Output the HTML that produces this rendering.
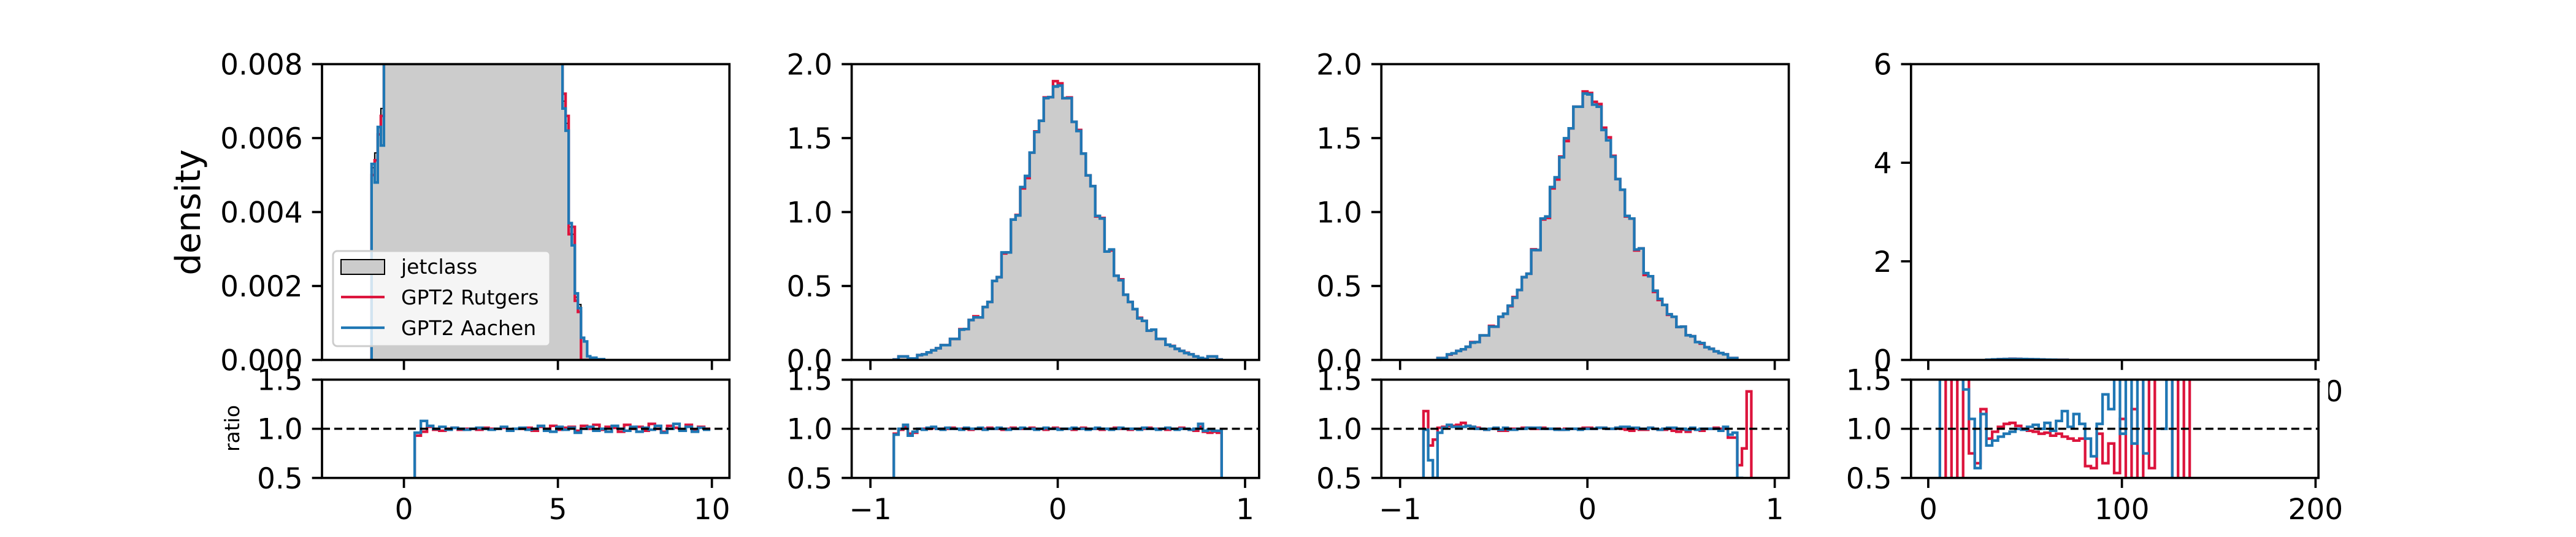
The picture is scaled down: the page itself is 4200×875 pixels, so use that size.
<!DOCTYPE html>
<html><head><meta charset="utf-8"><style>
html,body{margin:0;padding:0;background:#fff;}
svg{display:block;font-family:"DejaVu Sans","Liberation Sans",sans-serif;}
</style></head><body>
<svg id="fig" xmlns="http://www.w3.org/2000/svg" width="4200" height="875" viewBox="0 0 4200 875">
<rect width="4200" height="875" fill="#fff"/>
</svg>
<script>
// ---------- data ----------
const p1Edges = [-1.05,-0.95,-0.85,-0.75,-0.65,-0.55,0,0.5,1,1.5,2,2.5,3,3.5,4,4.5,5,5.15,5.25,5.35,5.45,5.55,5.65,5.75,5.85,5.95,6.05,6.25,6.5];
const p1Jet = [0.0052,0.0056,0.0063,0.0068,0.0095,0.05,0.2,0.35,0.4,0.38,0.33,0.27,0.2,0.13,0.07,0.03,0.012,0.0070,0.0064,0.0036,0.0034,0.0017,0.0015,0.0006,0.0005,0.0001,0.00006,0.00002];
const p1Rut = [0.0050,0.0054,0.0061,0.0066,0.0093,0.05,0.2,0.35,0.4,0.38,0.33,0.27,0.2,0.13,0.07,0.03,0.012,0.0072,0.0066,0.0034,0.0036,0.0016,0.0013,0.0000,0.0000,0.0000,0.00000,0.00000];
const p1Aac = [0.0053,0.0048,0.0063,0.0058,0.0098,0.05,0.2,0.35,0.4,0.38,0.33,0.27,0.2,0.13,0.07,0.03,0.012,0.0068,0.0062,0.0037,0.0031,0.0018,0.0014,0.0006,0.0005,0.0001,0.00006,0.00002];
const p1RatioStart = 0.15, p1RatioWidth = 0.2;
const p1RatioRut = [0,0.93,0.97,1.02,0.99,0.98,1.0,1.01,0.99,1.0,1.0,0.99,1.01,1.0,1.0,1.01,0.99,1.0,1.0,1.01,0.98,1.02,1.0,1.03,0.99,1.01,1.02,0.98,1.03,1.0,1.04,0.99,1.02,1.01,0.97,1.04,1.0,1.02,0.98,1.05,1.0,0.97,1.03,1.01,0.99,1.04,0.98,1.02,1.0];
const p1RatioAac = [0,0.96,1.08,1.03,1.0,1.02,0.99,1.01,1.0,0.99,1.0,1.01,1.0,0.99,1.0,1.02,0.98,1.0,1.01,0.99,1.0,1.03,0.98,0.97,1.02,0.99,1.01,0.96,1.0,1.02,0.98,1.0,0.97,1.03,1.0,0.98,1.02,0.97,1.01,0.99,1.03,0.96,1.0,1.05,0.98,1.02,0.97,1.01,0.99];
const p2Start = -0.875, p2Width = 0.025;
const p2Jet = [0.003,0.024,0.024,0.010,0.010,0.033,0.038,0.051,0.065,0.079,0.100,0.100,0.142,0.142,0.205,0.209,0.270,0.288,0.288,0.358,0.392,0.534,0.560,0.727,0.727,0.949,0.977,1.169,1.244,1.402,1.541,1.617,1.770,1.777,1.854,1.861,1.770,1.770,1.610,1.548,1.395,1.248,1.175,0.974,0.956,0.733,0.747,0.569,0.539,0.441,0.392,0.344,0.281,0.264,0.198,0.205,0.142,0.142,0.103,0.093,0.075,0.061,0.047,0.038,0.024,0.014,0.007,0.024,0.024,0.003];
const p2Rut = [0.003,0.024,0.024,0.010,0.010,0.033,0.038,0.051,0.065,0.079,0.100,0.100,0.142,0.142,0.208,0.209,0.270,0.295,0.288,0.358,0.392,0.534,0.560,0.720,0.727,0.949,0.980,1.160,1.230,1.402,1.545,1.617,1.775,1.777,1.885,1.870,1.770,1.775,1.610,1.555,1.395,1.248,1.175,0.970,0.960,0.733,0.740,0.569,0.545,0.441,0.392,0.344,0.285,0.264,0.198,0.205,0.142,0.142,0.103,0.095,0.075,0.061,0.049,0.038,0.024,0.014,0.007,0.024,0.024,0.003];
const p2Aac = [0.003,0.024,0.024,0.010,0.010,0.033,0.038,0.051,0.065,0.079,0.100,0.100,0.142,0.142,0.205,0.209,0.270,0.288,0.288,0.358,0.392,0.534,0.560,0.727,0.727,0.949,0.977,1.169,1.244,1.402,1.541,1.617,1.770,1.777,1.848,1.855,1.770,1.770,1.610,1.548,1.395,1.248,1.175,0.974,0.956,0.733,0.747,0.569,0.539,0.441,0.392,0.344,0.281,0.264,0.198,0.205,0.142,0.142,0.103,0.093,0.075,0.061,0.047,0.038,0.024,0.014,0.007,0.024,0.024,0.003];
const ratio23Start = -0.9, ratio23Width = 0.025;
const p2RatioAac = [0,0.94,1.00,1.04,0.93,0.97,1.00,0.99,1.01,1.02,1.00,0.99,1.01,1.00,1.00,0.99,1.01,1.00,1.00,1.01,0.99,1.00,1.00,1.01,1.00,0.99,1.00,1.00,1.01,1.00,1.00,0.99,1.00,1.01,1.00,1.00,0.99,1.00,1.00,1.01,1.00,1.00,0.99,1.00,1.01,1.00,1.00,0.99,1.00,1.01,1.00,1.00,1.00,0.99,1.01,1.00,1.00,0.99,1.00,1.01,1.00,0.99,1.00,1.00,0.99,1.00,1.05,0.98,0.99,0.98,0.98,0];
const p2RatioRut = [0,0.95,0.99,1.02,0.95,0.96,1.00,1.00,1.00,1.01,1.00,1.00,1.00,1.01,1.00,1.00,1.00,0.99,1.00,1.00,1.00,1.01,1.00,1.00,0.99,1.00,1.01,1.00,1.00,1.00,1.01,1.00,1.00,0.99,1.00,1.01,1.00,1.00,1.00,0.99,1.00,1.01,1.00,1.00,1.00,0.99,1.00,1.00,1.01,1.00,1.00,0.99,1.00,1.00,1.00,1.01,1.00,1.00,1.00,0.99,1.00,1.00,1.01,1.00,0.99,0.98,1.02,0.97,0.96,0.97,0.96,0];
const p3Start = -0.8, p3Width = 0.025;
const p3Jet = [0.013,0.013,0.038,0.045,0.061,0.072,0.089,0.117,0.121,0.166,0.166,0.225,0.225,0.292,0.312,0.367,0.420,0.473,0.560,0.583,0.743,0.743,0.956,0.970,1.169,1.235,1.370,1.499,1.566,1.712,1.712,1.801,1.795,1.726,1.712,1.555,1.485,1.374,1.223,1.151,0.974,0.956,0.747,0.754,0.587,0.566,0.468,0.413,0.372,0.309,0.292,0.223,0.225,0.167,0.160,0.121,0.114,0.086,0.075,0.058,0.047,0.038,0.013,0.013];
const p3Rut = [0.013,0.013,0.036,0.045,0.061,0.072,0.089,0.121,0.121,0.166,0.166,0.230,0.225,0.292,0.312,0.363,0.425,0.473,0.560,0.583,0.748,0.743,0.950,0.960,1.160,1.220,1.375,1.480,1.566,1.712,1.712,1.815,1.805,1.745,1.730,1.570,1.505,1.380,1.223,1.151,0.970,0.956,0.740,0.754,0.575,0.566,0.460,0.405,0.372,0.305,0.292,0.223,0.225,0.167,0.160,0.121,0.110,0.086,0.075,0.058,0.047,0.038,0.013,0.013];
const p3Aac = [0.013,0.013,0.038,0.045,0.061,0.072,0.089,0.117,0.121,0.166,0.166,0.225,0.225,0.292,0.312,0.367,0.420,0.473,0.560,0.583,0.743,0.743,0.956,0.970,1.169,1.235,1.370,1.499,1.566,1.712,1.712,1.801,1.795,1.726,1.712,1.555,1.485,1.374,1.223,1.151,0.974,0.956,0.747,0.754,0.587,0.566,0.468,0.413,0.372,0.309,0.292,0.223,0.225,0.167,0.160,0.121,0.114,0.086,0.075,0.058,0.047,0.038,0.013,0.013];
const p3RatioAac = [0,0.99,0.68,0.50,0.96,1.01,1.04,1.02,1.02,1.02,1.03,1.02,1.00,1.00,0.99,1.00,1.01,0.99,1.01,0.99,0.99,1.00,1.00,1.01,1.01,1.01,1.00,1.00,1.00,0.99,0.99,0.99,1.00,1.00,0.99,1.00,1.00,1.00,1.01,1.01,1.00,1.00,1.01,1.02,1.02,1.01,1.01,1.00,1.00,1.01,1.00,0.99,1.00,1.01,1.01,1.00,1.00,0.99,1.01,0.99,1.00,1.00,1.00,1.00,0.98,1.02,0.94,0.96,0.50,0,0,0];
const p3RatioRut = [0,1.18,0.83,0.89,1.01,1.02,1.03,1.03,1.04,1.06,1.03,1.02,1.01,1.00,0.99,1.00,1.00,0.98,0.98,1.00,1.00,1.00,1.01,1.01,1.00,1.00,1.01,1.00,1.00,1.00,0.99,1.00,1.00,1.00,1.00,1.01,1.01,1.00,1.01,1.01,1.00,1.00,1.01,1.00,0.99,0.98,1.00,0.99,0.99,1.01,1.00,0.99,0.99,1.00,0.98,0.97,0.99,0.97,1.00,0.99,0.98,1.00,1.00,1.01,1.00,1.00,0.91,0.91,0.63,0.80,1.38,0];
const p4Start = 30, p4Width = 3;
const p4Jet = [0.005,0.010,0.015,0.018,0.020,0.020,0.018,0.015,0.012,0.008,0.005,0.003,0.002,0.001];
const p4Rut = [0.004,0.010,0.016,0.019,0.024,0.021,0.017,0.014,0.011,0.007,0.005,0.003,0.002,0.001];
const p4Aac = [0.005,0.011,0.016,0.019,0.021,0.020,0.019,0.016,0.013,0.009,0.006,0.004,0.002,0.001];
const p4RatioStart = 3, p4RatioWidth = 3;
const p4RatioAac = [0.2,2.0,2.0,2.0,2.0,1.4,1.1,0.6,1.15,0.83,0.88,0.92,0.95,0.97,1.0,0.99,1.02,1.04,1.0,1.06,0.98,1.08,1.18,1.02,1.15,1.05,0.9,0.72,1.05,1.35,1.2,2.0,0.95,2.0,0.85,2.0,0.75,null,null,1.0,2.0,0.2,null,null,null];
const p4RatioRut = [null,2.0,0.2,2.0,0.2,2.0,0.75,0.65,1.2,0.9,0.97,1.02,1.05,1.06,1.03,1.0,0.98,0.97,0.95,0.96,0.93,0.95,0.92,0.9,0.88,0.9,0.62,0.6,0.95,0.65,0.85,0.55,1.1,0.2,1.2,0.2,2.0,0.6,2.0,null,0.2,2.0,0.2,2.0,0.2];
const p1YTicks = [0,0.002,0.004,0.006,0.008];
const p1YLabels = ["0.000","0.002","0.004","0.006","0.008"];
const p23YTicks = [0,0.5,1,1.5,2];
const p23YLabels = ["0.0","0.5","1.0","1.5","2.0"];
const p4YTicks = [0,2,4,6];
const p4YLabels = ["0","2","4","6"];
const ratioTicks = [0.5,1,1.5];
const ratioLabels = ["0.5","1.0","1.5"];
const p1XTicks = [0,5,10]; const p1XLabels = ["0","5","10"];
const p23XTicks = [-1,0,1]; const p23XLabels = ["\u22121","0","1"];
const p4XTicks = [0,100,200]; const p4XLabels = ["0","100","200"];

// ---------- layout ----------
const NS = "http://www.w3.org/2000/svg";
const svg = document.getElementById('fig');
const LEFTS = [525,1388.6,2252.2,3115.8], AW = 664.3;
const MT = 104.5, MB = 586.5, RT = 618.6, RB = 778.75;
const RED = "#dc143c", BLUE = "#1f77b4", GREY = "#cccccc";
const FS = 47, TICK = 16.3, LW = 3.7;

function mk(tag, attrs, parent){
  const e = document.createElementNS(NS, tag);
  for (const k in attrs) e.setAttribute(k, attrs[k]);
  (parent || svg).appendChild(e);
  return e;
}
function scale(d0,d1,r0,r1){ return v => r0 + (v-d0)/(d1-d0)*(r1-r0); }
function edgesFrom(start, width, n){ const e=[]; for(let i=0;i<=n;i++) e.push(start+width*i); return e; }
function histPath(edges, vals, sx, sy, closed){
  let d = "M"+sx(edges[0])+","+sy(0);
  for (let i=0;i<vals.length;i++){
    d += " L"+sx(edges[i])+","+sy(vals[i])+" L"+sx(edges[i+1])+","+sy(vals[i]);
  }
  d += " L"+sx(edges[vals.length])+","+sy(0);
  if (closed) d += " Z";
  return d;
}
function ratioPath(edges, vals, sx, sy){
  let d = "", open = false;
  for (let i=0;i<vals.length;i++){
    const v = vals[i];
    if (v === null){ open=false; continue; }
    d += (open ? " L" : " M")+sx(edges[i])+","+sy(v)+" L"+sx(edges[i+1])+","+sy(v);
    open = true;
  }
  return d;
}
function text(str, x, y, anchor, size, parent){
  const t = mk('text', {x:x, y:y, 'text-anchor':anchor, 'font-size':size, fill:'#000'}, parent);
  t.textContent = str;
  return t;
}

const panels = [
  {xlim:[-2.66,10.57], ylim:[0,0.008], edges:p1Edges, jet:p1Jet, rut:p1Rut, aac:p1Aac,
   rEdges:edgesFrom(p1RatioStart,p1RatioWidth,p1RatioRut.length), rRut:p1RatioRut, rAac:p1RatioAac,
   yt:p1YTicks, yl:p1YLabels, xt:p1XTicks, xl:p1XLabels},
  {xlim:[-1.10,1.075], ylim:[0,2], edges:edgesFrom(p2Start,p2Width,p2Jet.length), jet:p2Jet, rut:p2Rut, aac:p2Aac,
   rEdges:edgesFrom(ratio23Start,ratio23Width,p2RatioRut.length), rRut:p2RatioRut, rAac:p2RatioAac,
   yt:p23YTicks, yl:p23YLabels, xt:p23XTicks, xl:p23XLabels},
  {xlim:[-1.10,1.075], ylim:[0,2], edges:edgesFrom(p3Start,p3Width,p3Jet.length), jet:p3Jet, rut:p3Rut, aac:p3Aac,
   rEdges:edgesFrom(ratio23Start,ratio23Width,p3RatioRut.length), rRut:p3RatioRut, rAac:p3RatioAac,
   yt:p23YTicks, yl:p23YLabels, xt:p23XTicks, xl:p23XLabels},
  {xlim:[-8.9,201.5], ylim:[0,6], edges:edgesFrom(p4Start,p4Width,p4Jet.length), jet:p4Jet, rut:p4Rut, aac:p4Aac,
   rEdges:edgesFrom(p4RatioStart,p4RatioWidth,p4RatioRut.length), rRut:p4RatioRut, rAac:p4RatioAac,
   yt:p4YTicks, yl:p4YLabels, xt:p4XTicks, xl:p4XLabels}
];

panels.forEach((p, k) => {
  const L = LEFTS[k], R = L + AW;
  const sx = scale(p.xlim[0], p.xlim[1], L, R);
  const sy = scale(p.ylim[0], p.ylim[1], MB, MT);
  const ry = scale(0.5, 1.5, RB, RT);

  const g = mk('g', {});
  
  
  const cp = mk('clipPath', {id:'clipm'+k}, g);
  mk('rect', {x:L, y:MT, width:AW, height:MB-MT}, cp);
  const plot = mk('g', {'clip-path':'url(#clipm'+k+')'}, g);
  const fill = mk('path', {d:histPath(p.edges,p.jet,sx,sy,true), fill:GREY, stroke:'none'}, plot);
  
  
  const jl = mk('path', {d:histPath(p.edges,p.jet,sx,sy,false), fill:'none', stroke:'#000', 'stroke-width':2}, plot);
  
  
  const rl = mk('path', {d:histPath(p.edges,p.rut,sx,sy,false), fill:'none', stroke:RED, 'stroke-width':4.3}, plot);
  
  
  const bl = mk('path', {d:histPath(p.edges,p.aac,sx,sy,false), fill:'none', stroke:BLUE, 'stroke-width':4.3}, plot);
  
  
  mk('rect', {x:L, y:MT, width:AW, height:MB-MT, fill:'none', stroke:'#000', 'stroke-width':LW}, g);
  p.yt.forEach((v,i) => {
    const y = sy(v);
    mk('line', {x1:L-TICK, x2:L, y1:y, y2:y, stroke:'#000', 'stroke-width':LW}, g);
    const t = text(p.yl[i], L-TICK-15, y+17, 'end', FS, g);
    
    
  });
  p.xt.forEach((v,i) => {
    const x = sx(v);
    mk('line', {x1:x, x2:x, y1:MB, y2:MB+TICK, stroke:'#000', 'stroke-width':LW}, g);
    const t = text(p.xl[i], x, MB+TICK+16+35, 'middle', FS, g);
    
    
  });

  const gr = mk('g', {});
  
  
  mk('rect', {x:L, y:RT, width:AW, height:RB-RT, fill:'#fff'}, gr);
  if (k === 3) mk('rect', {x:R, y:RT+4, width:16, height:60, fill:'#fff'}, gr);
  const cr = mk('clipPath', {id:'clipr'+k}, gr);
  mk('rect', {x:L, y:RT, width:AW, height:RB-RT}, cr);
  const rp = mk('g', {'clip-path':'url(#clipr'+k+')'}, gr);
  const rr = mk('path', {d:ratioPath(p.rEdges,p.rRut,sx,ry), fill:'none', stroke:RED, 'stroke-width':4.3}, rp);
  
  
  const rb = mk('path', {d:ratioPath(p.rEdges,p.rAac,sx,ry), fill:'none', stroke:BLUE, 'stroke-width':4.3}, rp);
  
  
  const dl = mk('line', {x1:L, x2:R, y1:ry(1), y2:ry(1), stroke:'#000', 'stroke-width':3.5, 'stroke-dasharray':'13 7'}, rp);
  
  
  mk('rect', {x:L, y:RT, width:AW, height:RB-RT, fill:'none', stroke:'#000', 'stroke-width':LW}, gr);
  ratioTicks.forEach((v,i) => {
    const y = ry(v);
    mk('line', {x1:L-TICK, x2:L, y1:y, y2:y, stroke:'#000', 'stroke-width':LW}, gr);
    const t = text(ratioLabels[i], L-TICK-15, y+17, 'end', FS, gr);
    
    
  });
  p.xt.forEach((v,i) => {
    const x = sx(v);
    mk('line', {x1:x, x2:x, y1:RB, y2:RB+TICK, stroke:'#000', 'stroke-width':LW}, gr);
    const t = text(p.xl[i], x, RB+TICK+16+35, 'middle', FS, gr);
    
    
  });
});

const yl = text('density', 0, 0, 'middle', 56);
yl.setAttribute('transform', 'translate(326,346) rotate(-90)');


const rl2 = text('ratio', 0, 0, 'middle', 33);
rl2.setAttribute('transform', 'translate(390,698) rotate(-90)');



const lg = mk('g', {});


mk('rect', {x:543, y:409, width:354, height:155, rx:7, fill:'#fff', 'fill-opacity':0.8, stroke:'#cccccc', 'stroke-width':3}, lg);
const e1 = mk('rect', {x:556, y:423, width:71, height:24, fill:GREY, stroke:'#000', 'stroke-width':2}, lg);


const t1 = text('jetclass', 654, 446, 'start', 33, lg);


const e2 = mk('line', {x1:556, x2:627, y1:484, y2:484, stroke:RED, 'stroke-width':4.3}, lg);


const t2 = text('GPT2 Rutgers', 654, 496, 'start', 33, lg);


const e3 = mk('line', {x1:556, x2:627, y1:534, y2:534, stroke:BLUE, 'stroke-width':4.3}, lg);


const t3 = text('GPT2 Aachen', 654, 546, 'start', 33, lg);


</script>
</body></html>
